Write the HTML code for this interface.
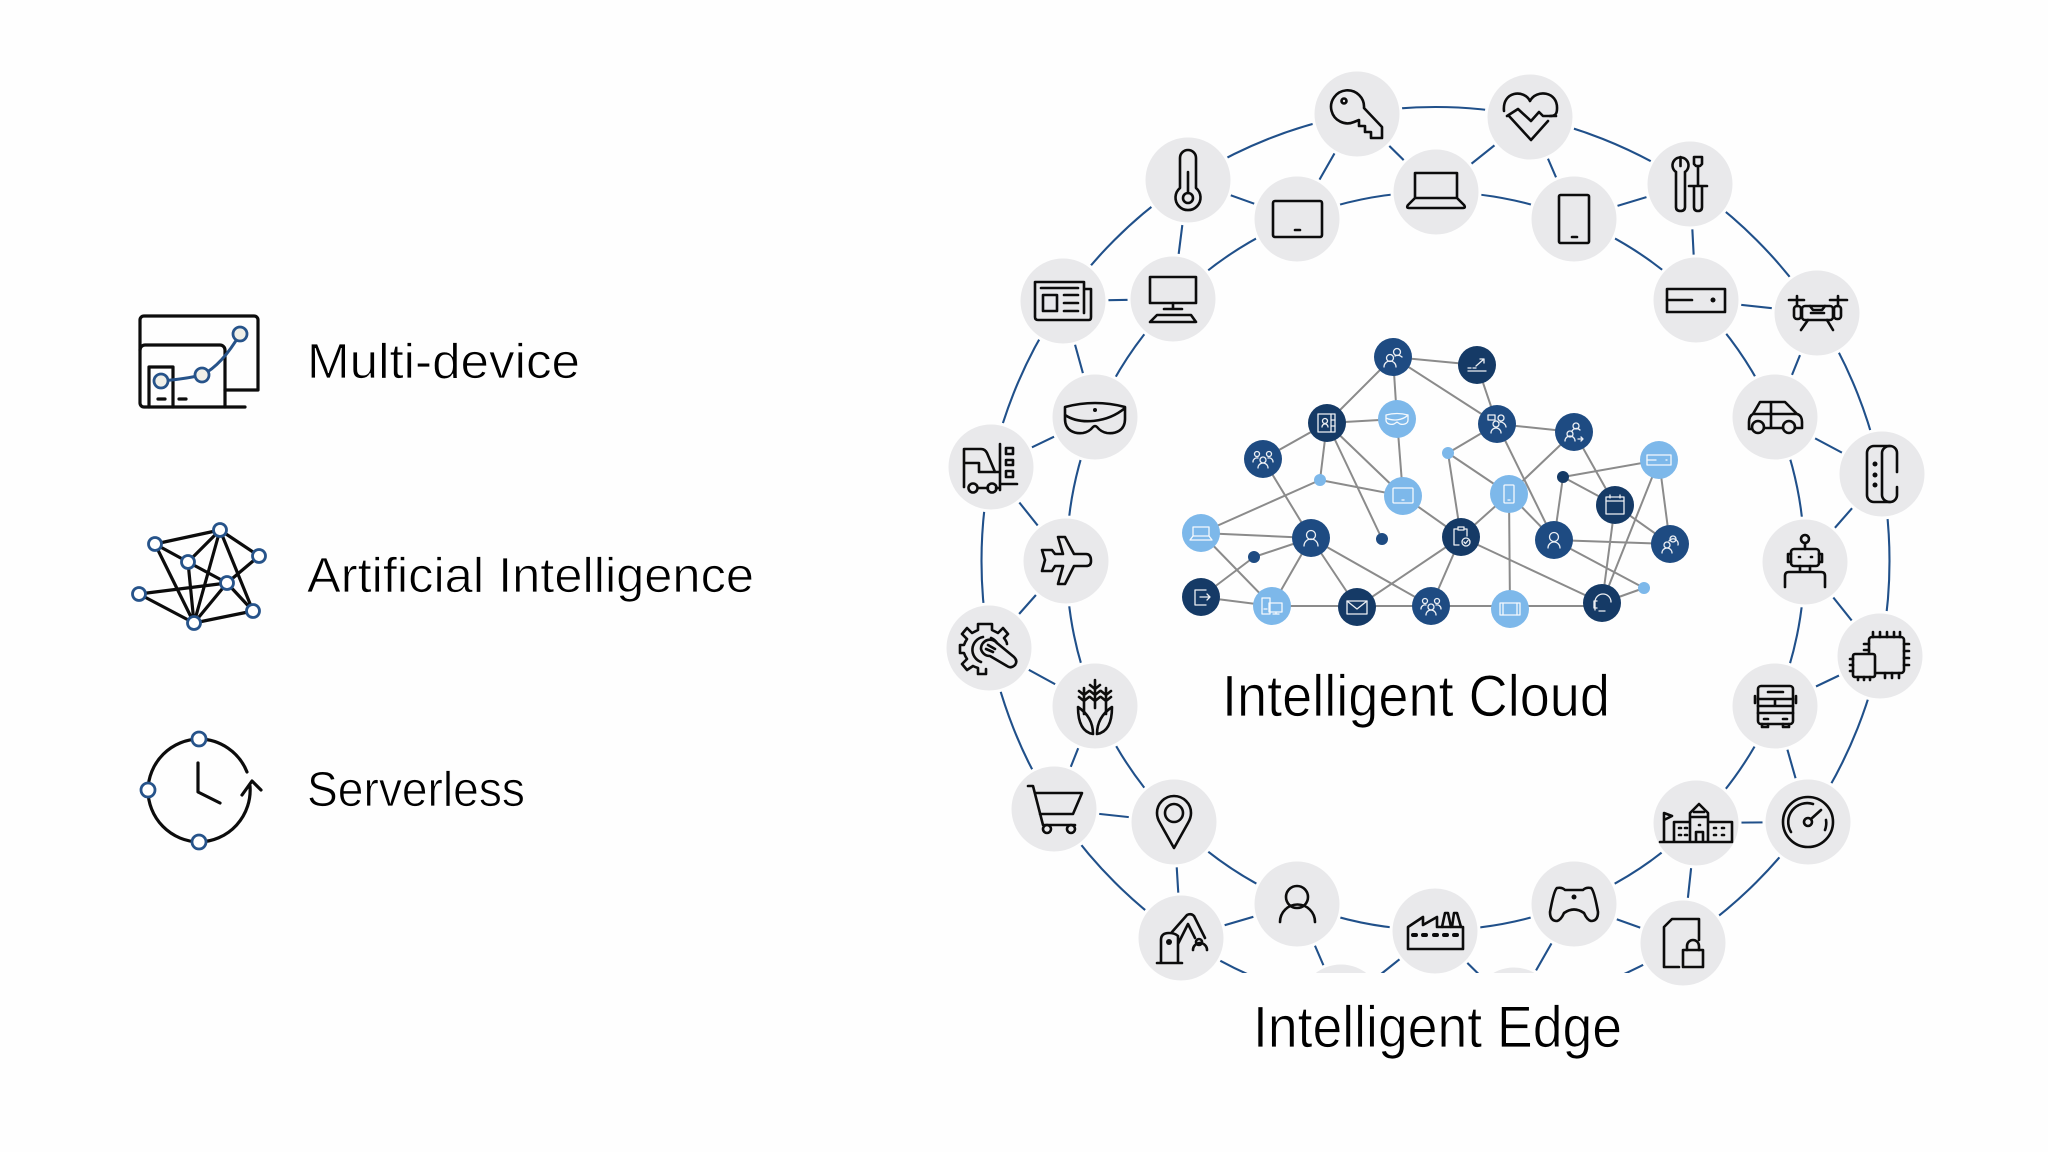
<!DOCTYPE html>
<html><head><meta charset="utf-8"><style>
html,body{margin:0;padding:0;background:#fefefe;width:2048px;height:1152px;overflow:hidden}
svg{display:block}
text{font-family:"Liberation Sans",sans-serif;fill:#000;stroke:#fefefe;stroke-width:.8}
.ic{fill:none;stroke:#0c0c0c;stroke-width:2.6;stroke-linejoin:round;stroke-linecap:round}
.ic .f{fill:#0c0c0c;stroke:none}
.c{fill:#e9e9eb;stroke:#fefefe;stroke-width:3}
.e{stroke:#20508a;stroke-width:2.1;fill:none}
.g{stroke:#8b8b8b;stroke-width:2;fill:none}
.w{fill:none;stroke:#fff;stroke-width:1.3;stroke-linejoin:round;stroke-linecap:round;opacity:.92}
.k{fill:none;stroke:#0c0c0c;stroke-width:3.2;stroke-linejoin:round;stroke-linecap:round}
.b{fill:#efefe8;stroke:#26538a;stroke-width:2.8}
.bw{fill:#fff;stroke:#26538a;stroke-width:2.8}
</style></head><body>
<svg width="2048" height="1152" viewBox="0 0 2048 1152" xmlns="http://www.w3.org/2000/svg">
<rect width="2048" height="1152" fill="#fefefe"/>

<!-- LEFT ICONS -->
<g class="k">
<path d="M225,390H258V320a4,4 0 0 0-4-4H144a4,4 0 0 0-4,4V403a4,4 0 0 0 4,4H245"/>
<path d="M140,350a5,5 0 0 1 5-5H220a5,5 0 0 1 5,5V407"/>
<path d="M149,407V367H173V407"/>
<path d="M158,399h7M179,399h7"/>
</g>
<path d="M161,381Q185,379 202,375Q222,365 240,334" fill="none" stroke="#26538a" stroke-width="3"/>
<circle cx="161" cy="381" r="7" class="b"/><circle cx="202" cy="375" r="7" class="b"/><circle cx="240" cy="334" r="7" class="b"/>

<g class="k">
<path d="M155,544L220,530L259,556L227,583L188,562L155,544L194,623L188,562L220,530L194,623L227,583L253,611L194,623L139,594L227,583M220,530L253,611"/>
</g>
<circle cx="155" cy="544" r="6.5" class="bw"/><circle cx="220" cy="530" r="6.5" class="bw"/><circle cx="259" cy="556" r="6.5" class="bw"/><circle cx="188" cy="562" r="6.5" class="bw"/><circle cx="227" cy="583" r="6.5" class="bw"/><circle cx="139" cy="594" r="6.5" class="bw"/><circle cx="253" cy="611" r="6.5" class="bw"/><circle cx="194" cy="623" r="6.5" class="bw"/>

<g class="k">
<path d="M247,772A52,52 0 0 0 199,739A52,52 0 0 0 148,790A52,52 0 0 0 199,842A52,52 0 0 0 250,786"/>
<path d="M242,795L252,781L261,790"/>
<path d="M198,763V792L220,803"/>
</g>
<circle cx="199" cy="739" r="7" class="bw"/><circle cx="148" cy="790" r="7" class="bw"/><circle cx="199" cy="842" r="7" class="bw"/>

<text x="307" y="378" font-size="49" textLength="273" lengthAdjust="spacingAndGlyphs">Multi-device</text>
<text x="307" y="592" font-size="49" textLength="447" lengthAdjust="spacingAndGlyphs">Artificial Intelligence</text>
<text x="307" y="806" font-size="49" textLength="218" lengthAdjust="spacingAndGlyphs">Serverless</text>

<!-- RINGS -->
<circle cx="1435.5" cy="561" r="454" class="e"/>
<circle cx="1435.5" cy="561" r="369" class="e"/>
<!-- ZIGZAG -->
<path class="e" d="M1357,114L1297,219M1357,114L1436,192M1530,117L1436,192M1530,117L1574,219M1574,219L1690,184M1690,184L1696,300M1696,300L1817,313M1817,313L1775,417M1775,417L1882,474M1882,474L1805,562M1805,562L1880,656M1880,656L1775,706M1775,706L1808,822M1808,822L1696,823M1696,823L1683,943M1683,943L1574,904M1574,904L1514,1009M1435,931L1514,1009M1435,931L1341,1006M1297,904L1341,1006M1297,904L1181,938M1181,938L1174,822M1174,822L1054,809M1054,809L1095,706M1095,706L989,648M989,648L1066,561M1066,561L991,467M991,467L1095,417M1095,417L1063,301M1063,301L1173,299M1173,299L1188,180M1188,180L1297,219"/>
<g class="c"><circle cx="1341" cy="1006" r="43"/><circle cx="1514" cy="1009" r="43"/></g>
<rect x="1150" y="973" width="570" height="179" fill="#fefefe"/>

<!-- GRAY NODES -->
<g class="c">
<circle cx="1357" cy="114" r="44"/><circle cx="1188" cy="180" r="44"/><circle cx="1297" cy="219" r="44"/><circle cx="1436" cy="192" r="44"/><circle cx="1530" cy="117" r="44"/><circle cx="1574" cy="219" r="44"/><circle cx="1690" cy="184" r="44"/><circle cx="1696" cy="300" r="44"/><circle cx="1817" cy="313" r="44"/><circle cx="1775" cy="417" r="44"/><circle cx="1882" cy="474" r="44"/><circle cx="1805" cy="562" r="44"/><circle cx="1880" cy="656" r="44"/><circle cx="1775" cy="706" r="44"/><circle cx="1808" cy="822" r="44"/><circle cx="1696" cy="823" r="44"/><circle cx="1574" cy="904" r="44"/><circle cx="1683" cy="943" r="44"/><circle cx="1435" cy="931" r="44"/><circle cx="1297" cy="904" r="44"/><circle cx="1181" cy="938" r="44"/><circle cx="1174" cy="822" r="44"/><circle cx="1054" cy="809" r="44"/><circle cx="1095" cy="706" r="44"/><circle cx="989" cy="648" r="44"/><circle cx="1066" cy="561" r="44"/><circle cx="991" cy="467" r="44"/><circle cx="1095" cy="417" r="44"/><circle cx="1063" cy="301" r="44"/><circle cx="1173" cy="299" r="44"/>
</g>

<!-- ICONS -->
<g class="ic">
<g transform="translate(1357,114)"><path d="M7,-6L25,13V24H14V18H8V12H2V6L-3,8A16.5,16.5 0 1 1 7,-6Z"/><circle cx="-13" cy="-13" r="2.5"/></g>
<g transform="translate(1188,180)"><path d="M-8,8V-22A8,8 0 0 1 8,-22V8A12.5,12.5 0 1 1 -8,8Z"/><circle cx="0" cy="18" r="5"/><path d="M0,-8V13"/></g>
<g transform="translate(1297,219)"><rect x="-24" y="-18" width="49" height="36" rx="2"/><path d="M-2,11H3"/></g>
<g transform="translate(1436,192)"><path d="M-21,6V-19H21V6M-21,6L-28,13Q-30,16 -27,16H27Q30,16 28,13L21,6Z"/></g>
<g transform="translate(1530,117)"><path d="M-26,-6C-28,-26 -6,-28 0,-16C6,-28 28,-26 27,-8C27,-2 24,-1 20,-1"/><path d="M-23,-1L-12,-8L1,4L9,-5L13,-1H26M-21,-1L1,23L18,4"/></g>
<g transform="translate(1574,219)"><rect x="-15" y="-24" width="30" height="48" rx="1.5"/><path d="M-2,18H3"/></g>
<g transform="translate(1690,184)"><path d="M-14,-12V23Q-14,27 -9.500,27Q-5,27 -5,23V-12M-14,-12A8,8 0 1 1 -5,-12"/><path d="M-9.500,-27V-18"/><path d="M4,-27H12V-20L10,-18H6L4,-20ZM8,-18V2M-1,2H17M4,2V23Q4,27 8,27Q12,27 12,23V2"/></g>
<g transform="translate(1696,300)"><rect x="-29" y="-11" width="58" height="23"/><path d="M-29,0H-4"/><circle class="f" cx="17" cy="0" r="2.500"/></g>
<g transform="translate(1817,313)"><rect x="-15" y="-7" width="31" height="14" rx="3"/><path d="M-28,-13H-13M13,-13H30M-20,-17V-7M21,-17V-7M-9,7L-16,17M10,7L16,17M-6,0H7M-7,-7L-4,-3H5L8,-7"/><rect x="-23" y="-7" width="7" height="13" rx="3"/><rect x="17" y="-7" width="7" height="13" rx="3"/></g>
<g transform="translate(1775,417)"><path d="M-23,12H-26V5C-26,0 -24,-2 -22,-3L-15,-15H10L22,-3C26,-2 27,2 27,5V11H20M8,11H-11M-22,-3H22M-4,-15V11"/><circle cx="-17" cy="10" r="6"/><circle cx="14" cy="10" r="6"/></g>
<g transform="translate(1882,474)"><path d="M15,-2V-21A7,7 0 0 0 8,-28H-8A7,7 0 0 0 -15,-21V21A7,7 0 0 0 -8,28H8A7,7 0 0 0 15,21V13"/><path d="M8,-28A8,7 0 0 0 0,-21V21A8,7 0 0 0 8,28"/><circle class="f" cx="-7" cy="-10" r="2.500"/><circle class="f" cx="-7" cy="1" r="2.500"/><circle class="f" cx="-7" cy="11" r="2.500"/></g>
<g transform="translate(1805,562)"><circle cx="0" cy="-23" r="4"/><path d="M0,-19V-13M-5,4V10M5,4V10M-20,25V14Q-20,10 -16,10H16Q20,10 20,14V25"/><rect x="-14" y="-13" width="28" height="17" rx="3"/><path d="M-14,-8H-17V0H-14M14,-8H17V0H14M-6,-5H-5M6,-5H7"/></g>
<g transform="translate(1880,656)"><rect x="-11" y="-19" width="35" height="36" rx="3"/><path d="M-7,-24V-19M0,-24V-19M7,-24V-19M14,-24V-19M20,-24V-19M29,-12H24M29,-5H24M29,2H24M29,9H24M5,17V22M12,17V22M19,17V22M-11,-12H-16M-11,-6H-16"/><rect x="-27" y="-2" width="22" height="23" rx="2" fill="#e9e9eb"/><path d="M-30,3H-27M-30,9H-27M-30,15H-27M-22,21V24M-16,21V24M-10,21V24"/></g>
<g transform="translate(1775,706)"><rect x="-17" y="-20" width="35" height="38" rx="3"/><path d="M-7,-14H8M-17,-7H18M0,-7V0M-17,0H18M-17,7H18M-11,13H-7M8,13H12M-20,-10V-3M21,-10V-3M-13,18V21H-7V18M8,18V21H14V18"/></g>
<g transform="translate(1808,822)"><circle r="25"/><path d="M-17,10A19,19 0 0 1 5,-18M17,8A19,19 0 0 0 18,-2M3,-3L13,-12"/><circle r="4"/></g>
<g transform="translate(1696,823)"><path d="M-32,19V-10M-32,-10L-24,-7L-32,-3ZM-36,19H36M-22,19V-1H-6M-6,19V-10L3,-19L12,-10V19M12,-1H36V19M-6,-6H12M-2,-11H8M0,19V9H7V19"/><path d="M-17,5H-15M-11,5H-9M-17,12H-15M-11,12H-9M18,5H20M26,5H28M18,12H20M26,12H28M3,2H4"/></g>
<g transform="translate(1574,904)"><path d="M-17,-16Q-12,-17 -9,-14H9Q12,-17 17,-16Q20,-14 24,8Q24,17 17,17Q13,16 10,9Q0,2 -10,9Q-13,16 -17,17Q-24,17 -24,8Q-20,-14 -17,-16Z"/><circle class="f" cx="0" cy="-7" r="2.500"/></g>
<g transform="translate(1683,943)"><path d="M-4,24H-19V-16L-11,-24H16V-3"/><rect x="0" y="7" width="20" height="17"/><path d="M4,7V3A6,6 0 0 1 16,3V7"/></g>
<g transform="translate(1435,931)"><path d="M-27,18V-4L-12,-14V-6L2,-14V-4H28V18ZM7,-4L10,-18H13L16,-4M17,-4L19,-18H22L26,-4"/><path d="M-22,4H-19M-12,4H-9M-1,4H2M9,4H12M19,4H22" stroke-width="4"/></g>
<g transform="translate(1297,904)"><circle cx="0" cy="-7" r="11"/><path d="M-17,18A17,17 0 0 1 18,18"/></g>
<g transform="translate(1181,938)"><path d="M-24,25H1M-20,25V2Q-20,-5 -12,-5Q-6,-5 -3,-2V25M-9,-6L6,-23Q10,-25 13,-22L24,0M-3,6L7,-14L14,0"/><circle cx="18" cy="4" r="3"/><path d="M12,12A7,7 0 0 1 26,12"/><circle class="f" cx="-12" cy="4" r="3"/></g>
<g transform="translate(1174,822)"><path d="M0,26L-14,1Q-17,-4 -17,-9A17,17 0 0 1 17,-9Q17,-4 14,1Z"/><circle cx="0" cy="-9" r="9"/></g>
<g transform="translate(1054,809)"><path d="M-26,-23H-21L-11,16H21M-19,-16H28L19,5H-14"/><circle cx="-7" cy="20" r="4"/><circle cx="17" cy="20" r="4"/></g>
<g transform="translate(1095,706)"><path d="M0,-26V2M-5,-21L0,-17L5,-21M-5,-15L0,-11L5,-15M-5,-9L0,-5L5,-9"/><path d="M-11,-18V8M-16,-15L-11,-11L-6,-15M-16,-9L-11,-5L-6,-9M11,-18V8M16,-15L11,-11L6,-15M16,-9L11,-5L6,-9"/><path d="M-2,28C-14,26 -17,14 -17,1C-8,7 -2,16 -2,28ZM2,28C14,26 17,14 17,1C8,7 2,16 2,28Z"/></g>
<g transform="translate(989,648)"><path d="M-4,-24H3V-18L9,-15L14,-20L19,-14L15,-10Q18,-6 18,-4M-4,-24H-11V-18L-17,-15L-22,-20L-27,-14L-22,-9Q-24,-6 -25,-3H-29V5H-25Q-24,8 -22,11L-27,16L-22,22L-16,18Q-14,19 -11,20V26H-3V21"/><path d="M-6,-11A13,13 0 0 0 -8,14M2,-10A14,14 0 0 1 8,-5"/><path d="M-8,1A9,9 0 0 1 8,-5L25,9Q29,13 26,17Q22,21 18,18L1,8A9,9 0 0 1 -8,1Z"/><path d="M-3,1L4,4M-1,-3L6,1"/></g>
<g transform="translate(1066,561)"><path d="M-8,-24H-1L8,-7H20Q25,-7 25,0Q25,5 20,5H8L-1,23H-8L-3,5H-11L-14,10H-24L-21,-1L-24,-11H-14L-11,-7H-3Z"/></g>
<g transform="translate(991,467)"><path d="M-27,20V-18H-10Q-6,-18 -4,-14L4,5M-27,-4H-12V5H9M9,-23V23M9,17H26M-13,21H-3M5,21H9"/><circle cx="-18" cy="21" r="4.500"/><circle cx="1" cy="21" r="4.500"/><rect x="15" y="-19" width="7" height="6"/><rect x="15" y="-7" width="7" height="5"/><rect x="15" y="4" width="7" height="6"/></g>
<g transform="translate(1095,417)"><path d="M-30,-10Q0,-18 30,-10V2C30,14 20,17 12,16Q6,15 2,10Q0,8 -2,10Q-6,15 -12,16C-20,17 -30,14 -30,2ZM-30,-2C-15,8 12,6 30,-9"/><circle class="f" cx="0" cy="-7" r="2"/></g>
<g transform="translate(1063,301)"><path d="M21,-12V-19H-28V16Q-28,19 -25,19H26Q28,19 28,16V-12H21V12"/><rect x="-20" y="-6" width="14" height="16"/><path d="M-22,-13H15M1,-6H15M1,2H15M1,10H15"/></g>
<g transform="translate(1173,299)"><rect x="-23" y="-22" width="46" height="26"/><path d="M0,4V10M-9,10H9M-16,16H18L23,23H-23Z"/></g>
</g>

<!-- CLOUD EDGES -->
<path class="g" d="M1393,357L1477,365M1393,357L1327,423M1393,357L1397,419M1393,357L1497,424M1477,365L1497,424M1397,419L1327,423M1397,419L1403,496M1327,423L1263,459M1327,423L1320,480M1327,423L1403,496M1327,423L1382,539M1263,459L1311,538M1320,480L1403,496M1320,480L1201,533M1403,496L1461,537M1497,424L1574,432M1497,424L1448,453M1497,424L1554,540M1574,432L1509,494M1574,432L1615,505M1659,460L1563,477M1659,460L1602,603M1659,460L1670,544M1448,453L1509,494M1448,453L1461,537M1563,477L1615,505M1563,477L1554,540M1509,494L1461,537M1509,494L1554,540M1509,494L1510,609M1615,505L1670,544M1615,505L1602,603M1201,533L1311,538M1201,533L1272,606M1311,538L1254,557M1311,538L1272,606M1311,538L1357,607M1311,538L1431,606M1461,537L1357,607M1461,537L1431,606M1461,537L1602,603M1554,540L1670,544M1554,540L1644,588M1254,557L1201,597M1201,597L1272,606M1272,606H1602M1602,603L1644,588"/>

<!-- CLOUD NODES -->
<g fill="#1e4b82"><circle cx="1393" cy="357" r="19"/><circle cx="1497" cy="424" r="19"/><circle cx="1574" cy="432" r="19"/><circle cx="1263" cy="459" r="19"/><circle cx="1311" cy="538" r="19"/><circle cx="1554" cy="540" r="19"/><circle cx="1670" cy="544" r="19"/><circle cx="1431" cy="606" r="19"/><circle cx="1254" cy="557" r="6"/><circle cx="1382" cy="539" r="6"/></g>
<g fill="#153a66"><circle cx="1477" cy="365" r="19"/><circle cx="1327" cy="423" r="19"/><circle cx="1615" cy="505" r="19"/><circle cx="1461" cy="537" r="19"/><circle cx="1201" cy="597" r="19"/><circle cx="1357" cy="607" r="19"/><circle cx="1602" cy="603" r="19"/><circle cx="1563" cy="477" r="6"/></g>
<g fill="#7db8ea"><circle cx="1397" cy="419" r="19"/><circle cx="1403" cy="496" r="19"/><circle cx="1659" cy="460" r="19"/><circle cx="1509" cy="494" r="19"/><circle cx="1201" cy="533" r="19"/><circle cx="1272" cy="606" r="19"/><circle cx="1510" cy="609" r="19"/><circle cx="1320" cy="480" r="6"/><circle cx="1448" cy="453" r="6"/><circle cx="1644" cy="588" r="6"/></g>

<!-- CLOUD ICONS -->
<g class="w">
<g transform="translate(1393,357)"><circle cx="-3" cy="1" r="3.500"/><circle cx="4" cy="-5" r="3.500"/><path d="M-9,10A6,6 0 0 1 3,10M2,-1A6,6 0 0 1 9,0"/></g>
<g transform="translate(1477,365)"><path d="M-9,6H9M-9,3H-6M-4,3H-1M-1,1L7,-6M3,-6H7V-2"/></g>
<g transform="translate(1397,419)"><path d="M-11,-4Q0,-7 11,-4V1C11,5 6,6 3,5L0,3L-3,5C-6,6 -11,5 -11,1ZM-11,-1C-5,2 5,2 11,-4"/></g>
<g transform="translate(1327,423)"><rect x="-9" y="-9" width="17" height="18"/><path d="M4,-9V9M4,-3H8M4,3H8M-5,4A3,3 0 0 1 1,4"/><circle cx="-2" cy="-2" r="2.500"/></g>
<g transform="translate(1263,459)"><circle cx="-6" cy="-5" r="2.500"/><circle cx="6" cy="-5" r="2.500"/><circle cx="0" cy="1" r="3"/><path d="M-5,9A5,5 0 0 1 5,9M-10,3A4,4 0 0 1 -5,-1M10,3A4,4 0 0 0 5,-1"/></g>
<g transform="translate(1403,496)"><rect x="-10" y="-8" width="20" height="15" rx="1"/><path d="M-1,4H1"/></g>
<g transform="translate(1497,424)"><rect x="-9" y="-9" width="7" height="5"/><circle cx="4" cy="-6" r="3"/><circle cx="-1" cy="0" r="3"/><path d="M-6,9A5,5 0 0 1 4,9M3,-2A6,6 0 0 1 9,3"/></g>
<g transform="translate(1574,432)"><circle cx="2" cy="-6" r="3"/><circle cx="-4" cy="2" r="3"/><path d="M-9,9A5,5 0 0 1 1,9M-2,-1A5,5 0 0 1 6,-2M4,7H9M7,5L9,7L7,9"/></g>
<g transform="translate(1659,460)"><rect x="-12" y="-5" width="24" height="10"/><path d="M-12,0H-3M7,0H8"/></g>
<g transform="translate(1509,494)"><rect x="-5" y="-9" width="10" height="18" rx="1"/><path d="M-1,6H1"/></g>
<g transform="translate(1615,505)"><rect x="-9" y="-8" width="18" height="17"/><path d="M-9,-4H9M-5,-10V-7M5,-10V-7"/></g>
<g transform="translate(1201,533)"><path d="M-8,3V-6H8V3M-8,3L-11,7H11L8,3Z"/></g>
<g transform="translate(1311,538)"><circle cx="0" cy="-3" r="4.500"/><path d="M-7,8A7,7 0 0 1 7,8"/></g>
<g transform="translate(1461,537)"><path d="M-2,8H-7V-8H-3M3,-8H6V-1"/><rect x="-3" y="-10" width="6" height="3"/><circle cx="5" cy="5" r="4"/><path d="M3,5L4.500,6.500L7,3.500"/></g>
<g transform="translate(1554,540)"><circle cx="0" cy="-3" r="4.500"/><path d="M-6,8A6,6 0 0 1 6,8"/></g>
<g transform="translate(1670,544)"><circle cx="3" cy="-5" r="3"/><circle cx="-3" cy="1" r="3"/><path d="M-8,9A5,5 0 0 1 2,9M-1,-3A5,5 0 0 1 8,1"/></g>
<g transform="translate(1201,597)"><path d="M5,-7H-6V8H5M-1,0H9M6,-3L9,0L6,3"/></g>
<g transform="translate(1272,606)"><rect x="-10" y="-8" width="8" height="16"/><rect x="-3" y="-3" width="13" height="9"/><path d="M1,8H7M4,6V8M-8,3H-5"/></g>
<g transform="translate(1357,607)"><rect x="-10" y="-6" width="20" height="13"/><path d="M-10,-6L0,2L10,-6"/></g>
<g transform="translate(1431,606)"><circle cx="-6" cy="-5" r="2.500"/><circle cx="6" cy="-5" r="2.500"/><circle cx="0" cy="1" r="3"/><path d="M-5,9A5,5 0 0 1 5,9M-10,3A4,4 0 0 1 -5,-1M10,3A4,4 0 0 0 5,-1"/></g>
<g transform="translate(1510,609)"><rect x="-10" y="-6" width="20" height="12"/><path d="M-7,-6V6M7,-6V6"/></g>
<g transform="translate(1602,603)"><path d="M-7,-1A8,8 0 0 1 9,-1M-7,-1V7M-5,-2H-8V5H-5M-3,8H3"/></g>
</g>

<!-- BIG LABELS -->
<text x="1222" y="716" font-size="58" textLength="388" lengthAdjust="spacingAndGlyphs">Intelligent Cloud</text>
<text x="1253" y="1047" font-size="58" textLength="369" lengthAdjust="spacingAndGlyphs">Intelligent Edge</text>
</svg>
</body></html>
